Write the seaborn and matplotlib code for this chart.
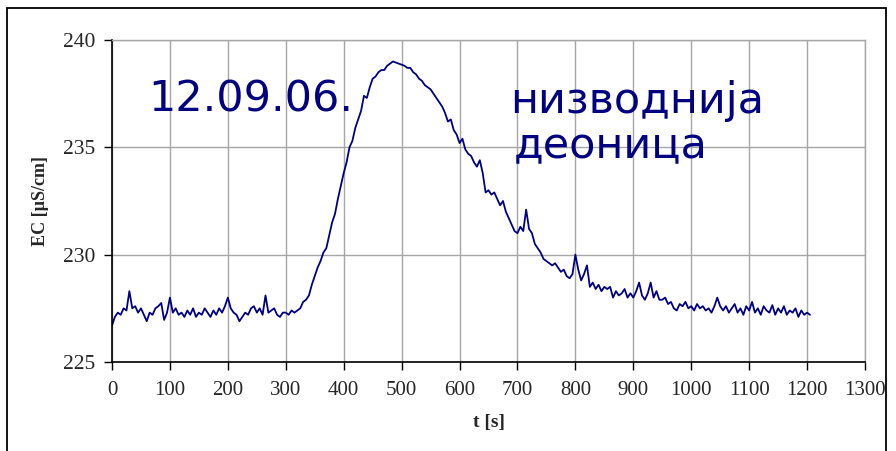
import numpy as np
import pandas as pd
import matplotlib
matplotlib.use("Agg")
import matplotlib.pyplot as plt
import seaborn as sns
from matplotlib.patches import Rectangle

# time step 5 s, starting at 0
t_start = 0
t_step = 5
ec = [
    226.7, 227.1, 227.3, 227.2, 227.5, 227.4, 228.3, 227.5, 227.6, 227.3,
    227.5, 227.2, 226.9, 227.3, 227.2, 227.5, 227.6, 227.75, 226.96, 227.3,
    228.0, 227.3, 227.5, 227.2, 227.3, 227.1, 227.4, 227.2, 227.5, 227.1,
    227.3, 227.2, 227.5, 227.3, 227.1, 227.4, 227.2, 227.5, 227.3, 227.6,
    228.0, 227.5, 227.3, 227.2, 226.9, 227.1, 227.3, 227.2, 227.5, 227.6,
    227.3, 227.5, 227.2, 228.1, 227.3, 227.4, 227.5, 227.2, 227.1, 227.3,
    227.3, 227.2, 227.4, 227.3, 227.4, 227.5, 227.8, 227.9, 228.1, 228.6,
    229.0, 229.4, 229.7, 230.1, 230.3, 230.9, 231.5, 231.9, 232.6, 233.2,
    233.8, 234.3, 235.0, 235.3, 235.9, 236.3, 236.7, 237.4, 237.3, 237.8,
    238.2, 238.3, 238.5, 238.6, 238.6, 238.8, 238.9, 239.0, 238.95, 238.9,
    238.85, 238.8, 238.7, 238.7, 238.5, 238.4, 238.2, 238.1, 237.9, 237.8,
    237.7, 237.5, 237.3, 237.1, 236.9, 236.6, 236.2, 236.3, 235.8, 235.6,
    235.2, 235.4, 234.9, 234.7, 234.6, 234.3, 234.1, 234.4, 233.8, 232.9,
    233.0, 232.8, 232.9, 232.6, 232.3, 232.5, 232.0, 231.7, 231.4, 231.1,
    231.0, 231.3, 231.1, 232.1, 231.2, 231.0, 230.5, 230.3, 230.1, 229.8,
    229.7, 229.6, 229.5, 229.6, 229.4, 229.2, 229.3, 229.0, 228.9, 229.1,
    230.0, 229.3, 228.8, 229.1, 229.5, 228.5, 228.7, 228.4, 228.6, 228.3,
    228.5, 228.4, 228.5, 228.0, 228.3, 228.1, 228.2, 228.4, 228.0, 228.2,
    228.0, 228.3, 228.7, 228.1, 227.9, 228.2, 228.7, 228.0, 228.3, 227.9,
    227.9, 228.0, 227.7, 227.8, 227.5, 227.4, 227.7, 227.6, 227.8, 227.5,
    227.6, 227.4, 227.7, 227.5, 227.6, 227.4, 227.5, 227.3, 227.6, 228.0,
    227.6, 227.4, 227.6, 227.3, 227.5, 227.7, 227.3, 227.5, 227.2, 227.6,
    227.4, 227.8, 227.3, 227.5, 227.2, 227.6, 227.4, 227.3, 227.65, 227.2,
    227.5, 227.3, 227.6, 227.2, 227.4, 227.3, 227.5, 227.1, 227.4, 227.2,
    227.3, 227.2,
]
x_ticks = list(range(0, 1301, 100))
y_ticks = [225, 230, 235, 240]
date_label = "12.09.06."
section_label = ["низводнија", "деоница"]
x_label = "t [s]"
y_label = "EC [µS/cm]"

t = [t_start + i * t_step for i in range(len(ec))]
df = pd.DataFrame({"t": t, "ec": ec})

sns.set_style("white")
plt.rcParams["font.family"] = ["Liberation Serif", "DejaVu Serif"]

fig = plt.figure(figsize=(8.96, 4.51), dpi=100)
ax = fig.add_axes([112 / 896, 1 - 362 / 451, (865 - 112) / 896, (362 - 40) / 451])

sns.lineplot(data=df, x="t", y="ec", ax=ax, color="#000080", linewidth=1.3)

ax.set_xlim(0, 1300)
ax.set_ylim(225, 240)
ax.set_xticks(x_ticks)
ax.set_yticks(y_ticks)
ax.grid(True, color="#a6a6a6", linewidth=1.0)
ax.set_axisbelow(True)
for s in ["top", "right"]:
    ax.spines[s].set_color("#a6a6a6")
    ax.spines[s].set_linewidth(1.0)
for s in ["left", "bottom"]:
    ax.spines[s].set_color("black")
    ax.spines[s].set_linewidth(1.2)
ax.tick_params(axis="x", labelsize=15, pad=8)
ax.tick_params(axis="y", labelsize=15.5, pad=6)
ax.tick_params(axis="both", direction="out", length=6, width=1.0, color="black",
               bottom=True, left=True)
ax.set_xlabel(x_label, fontsize=14, fontweight="bold", labelpad=10)
ax.set_ylabel(y_label, fontsize=13, fontweight="bold", labelpad=10)

fig.text(148 / 896, 1 - 112 / 451, date_label, color="#000080", fontsize=31,
         family=["DejaVu Sans"], va="baseline", ha="left")
fig.text(510 / 896, 1 - 113 / 451, section_label[0], color="#000080", fontsize=31,
         family=["DejaVu Sans"], va="baseline", ha="left")
fig.text(514 / 896, 1 - 158 / 451, section_label[1], color="#000080", fontsize=31,
         family=["DejaVu Sans"], va="baseline", ha="left")

# outer frame
fig.patches.append(Rectangle((7 / 896, -0.05), (886 - 7) / 896, 1.05 - 8 / 451,
                             transform=fig.transFigure, fill=False,
                             edgecolor="black", linewidth=1.3))

fig.savefig("out.png", dpi=100)
